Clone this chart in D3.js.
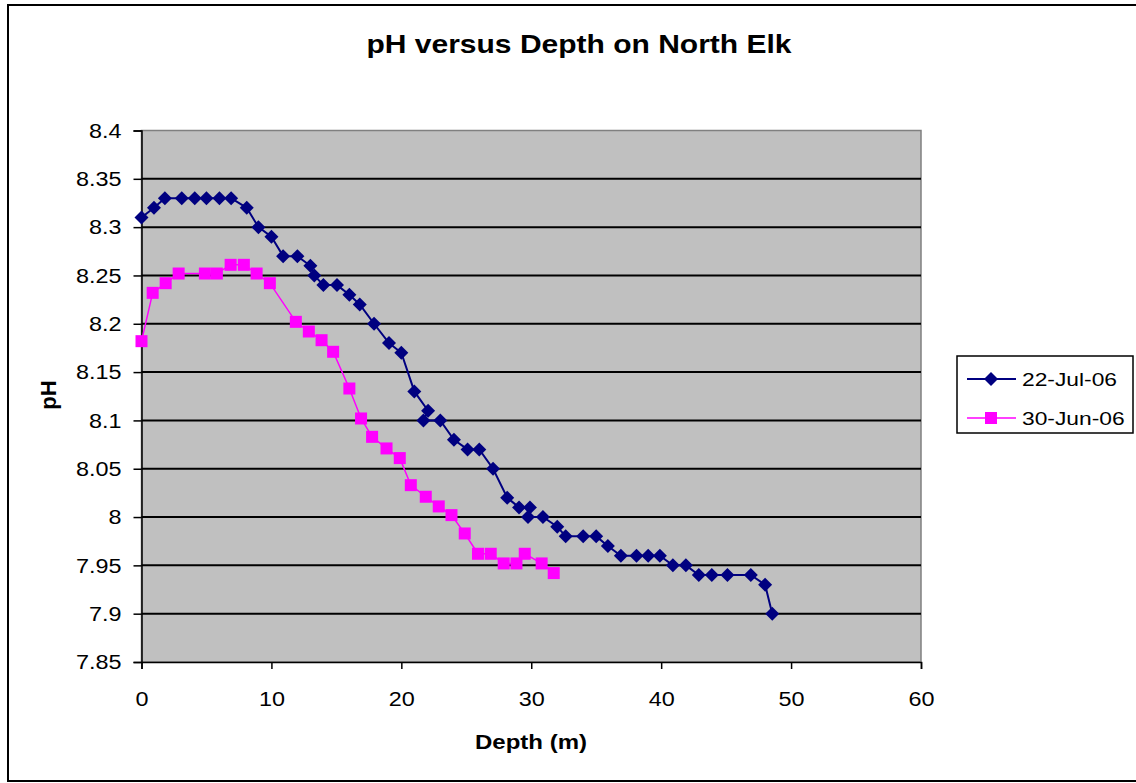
<!DOCTYPE html>
<html>
<head>
<meta charset="utf-8">
<script src="https://cdn.jsdelivr.net/npm/d3@7"></script>
<style>
  body { margin: 0; background: #fff; }
  text { font-family: Arial, "Liberation Sans", sans-serif; }
</style>
</head>
<body>
<div id="chart"></div>
<script>
// 22-Jul-06 profile
const julDepth = [0, 0.96, 1.8, 3.1, 4.1, 5.0, 6.0, 6.9, 8.1, 9.0, 10.0, 10.9, 12.0, 13.0, 13.3, 14.0, 15.05, 16.0, 16.8, 17.9,
  19.05, 20.0, 21.0, 22.06, 21.7, 23.0, 24.05, 25.1, 26.0, 27.06, 28.15, 29.06, 29.9, 29.75, 30.9, 32.0, 32.65, 34.0, 35.0,
  35.9, 36.9, 38.1, 39.0, 39.9, 40.9, 41.9, 42.9, 43.9, 45.1, 46.9, 48.0, 48.55];
const julPH = [8.31, 8.32, 8.33, 8.33, 8.33, 8.33, 8.33, 8.33, 8.32, 8.30, 8.29, 8.27, 8.27, 8.26, 8.25, 8.24, 8.24, 8.23, 8.22, 8.20,
  8.18, 8.17, 8.13, 8.11, 8.10, 8.10, 8.08, 8.07, 8.07, 8.05, 8.02, 8.01, 8.01, 8.00, 8.00, 7.99, 7.98, 7.98, 7.98,
  7.97, 7.96, 7.96, 7.96, 7.96, 7.95, 7.95, 7.94, 7.94, 7.94, 7.94, 7.93, 7.90];

// 30-Jun-06 profile
const junDepth = [0, 0.86, 1.86, 2.86, 4.88, 5.8, 6.86, 7.88, 8.86, 9.88, 11.88, 12.88, 13.86, 14.75, 16.0, 16.9, 17.75,
  18.86, 19.88, 20.73, 21.88, 22.88, 23.86, 24.88, 25.9, 26.88, 27.88, 28.86, 29.5, 30.8, 31.73];
const junPH = [8.182, 8.232, 8.242, 8.252, 8.252, 8.252, 8.261, 8.261, 8.252, 8.242, 8.202, 8.192, 8.183, 8.171, 8.133, 8.102, 8.083,
  8.071, 8.061, 8.033, 8.021, 8.011, 8.002, 7.983, 7.962, 7.962, 7.952, 7.952, 7.962, 7.952, 7.942];

const seriesNames = ["22-Jul-06", "30-Jun-06"];
const xTicks = [0, 10, 20, 30, 40, 50, 60];
const yTicks = [7.85, 7.9, 7.95, 8, 8.05, 8.1, 8.15, 8.2, 8.25, 8.3, 8.35, 8.4];

const width = 1136, height = 783;
const plot = { left: 141.5, right: 921, top: 130.5, bottom: 662 };
const stretch = 1.2; // text in the original is a bit wide

const svg = d3.select("#chart").append("svg")
  .attr("width", width)
  .attr("height", height);

// outer chart frame
svg.append("rect")
  .attr("x", 8).attr("y", 5)
  .attr("width", 1140).attr("height", 776)
  .attr("fill", "#fff").attr("stroke", "#000").attr("stroke-width", 2);

const x = d3.scaleLinear().domain([0, 60]).range([plot.left, plot.right]);
const y = d3.scaleLinear().domain([7.85, 8.4]).range([plot.bottom, plot.top]);

// plot background
svg.append("rect")
  .attr("x", plot.left).attr("y", plot.top)
  .attr("width", plot.right - plot.left).attr("height", plot.bottom - plot.top)
  .attr("fill", "#c0c0c0").attr("stroke", "#808080").attr("stroke-width", 1.5);

// horizontal gridlines
svg.append("g")
  .selectAll("line")
  .data(yTicks.filter(d => d > 7.85 && d < 8.4))
  .join("line")
  .attr("x1", plot.left).attr("x2", plot.right)
  .attr("y1", d => y(d)).attr("y2", d => y(d))
  .attr("stroke", "#000").attr("stroke-width", 2);

// axes
const yAxis = svg.append("g")
  .attr("transform", `translate(${plot.left},0)`)
  .call(d3.axisLeft(y).tickValues(yTicks).tickFormat(d3.format("")).tickSizeOuter(0).tickSize(8));
const xAxis = svg.append("g")
  .attr("transform", `translate(0,${plot.bottom})`)
  .call(d3.axisBottom(x).tickValues(xTicks).tickSizeOuter(0).tickSize(7));

[xAxis, yAxis].forEach(a => {
  a.select(".domain").attr("stroke", "#000").attr("stroke-width", 1.5);
  a.selectAll(".tick line").attr("stroke", "#000").attr("stroke-width", 1.5);
  a.selectAll(".tick text").attr("font-size", 19.5).attr("fill", "#000")
    .style("font-family", "Arial, 'Liberation Sans', sans-serif")
    .attr("x", 0).attr("y", 0);
});
yAxis.selectAll(".tick text")
  .attr("dy", "0.35em")
  .attr("transform", `translate(-20,0) scale(${stretch},1)`);
xAxis.selectAll(".tick text")
  .attr("dy", 0)
  .attr("transform", `translate(0,44) scale(${stretch},1)`);

// titles
svg.append("text")
  .attr("transform", `translate(579,53) scale(${stretch},1)`)
  .attr("text-anchor", "middle")
  .attr("font-size", 25).attr("font-weight", "bold")
  .text("pH versus Depth on North Elk");

svg.append("text")
  .attr("transform", `translate(531,749) scale(${stretch},1)`)
  .attr("text-anchor", "middle")
  .attr("font-size", 20).attr("font-weight", "bold")
  .text("Depth (m)");

svg.append("text")
  .attr("transform", "translate(56,395) rotate(-90)")
  .attr("text-anchor", "middle")
  .attr("font-size", 22).attr("font-weight", "bold")
  .text("pH");

// series
const jul = julDepth.map((d, i) => ({ depth: d, ph: julPH[i] }));
const jun = junDepth.map((d, i) => ({ depth: d, ph: junPH[i] }));

const line = d3.line().x(d => x(d.depth)).y(d => y(d.ph));

svg.append("path").datum(jun)
  .attr("d", line).attr("fill", "none")
  .attr("stroke", "#ff00ff").attr("stroke-width", 1.5);

svg.append("path").datum(jul)
  .attr("d", line).attr("fill", "none")
  .attr("stroke", "#000080").attr("stroke-width", 2);

const diamond = "M0,-7L7,0L0,7L-7,0Z";

svg.append("g").selectAll("rect")
  .data(jun).join("rect")
  .attr("x", d => x(d.depth) - 6).attr("y", d => y(d.ph) - 6)
  .attr("width", 12).attr("height", 12)
  .attr("fill", "#ff00ff");

svg.append("g").selectAll("path")
  .data(jul).join("path")
  .attr("d", diamond)
  .attr("transform", d => `translate(${x(d.depth)},${y(d.ph)})`)
  .attr("fill", "#000080");

// legend
const legend = svg.append("g");
legend.append("rect")
  .attr("x", 957).attr("y", 356)
  .attr("width", 176).attr("height", 77)
  .attr("fill", "#fff").attr("stroke", "#000").attr("stroke-width", 1.5);

const colors = ["#000080", "#ff00ff"];
seriesNames.forEach((name, i) => {
  const ly = 379 + i * 39;
  legend.append("line")
    .attr("x1", 967).attr("x2", 1016)
    .attr("y1", ly).attr("y2", ly)
    .attr("stroke", colors[i]).attr("stroke-width", i === 0 ? 2 : 1.5);
  if (i === 0) {
    legend.append("path").attr("d", diamond)
      .attr("transform", `translate(991,${ly})`)
      .attr("fill", colors[i]);
  } else {
    legend.append("rect")
      .attr("x", 985).attr("y", ly - 6)
      .attr("width", 12).attr("height", 12)
      .attr("fill", colors[i]);
  }
  legend.append("text")
    .attr("transform", `translate(1022,${ly}) scale(${stretch},1)`)
    .attr("dy", "0.35em")
    .attr("font-size", 19)
    .text(name);
});
</script>
</body>
</html>
